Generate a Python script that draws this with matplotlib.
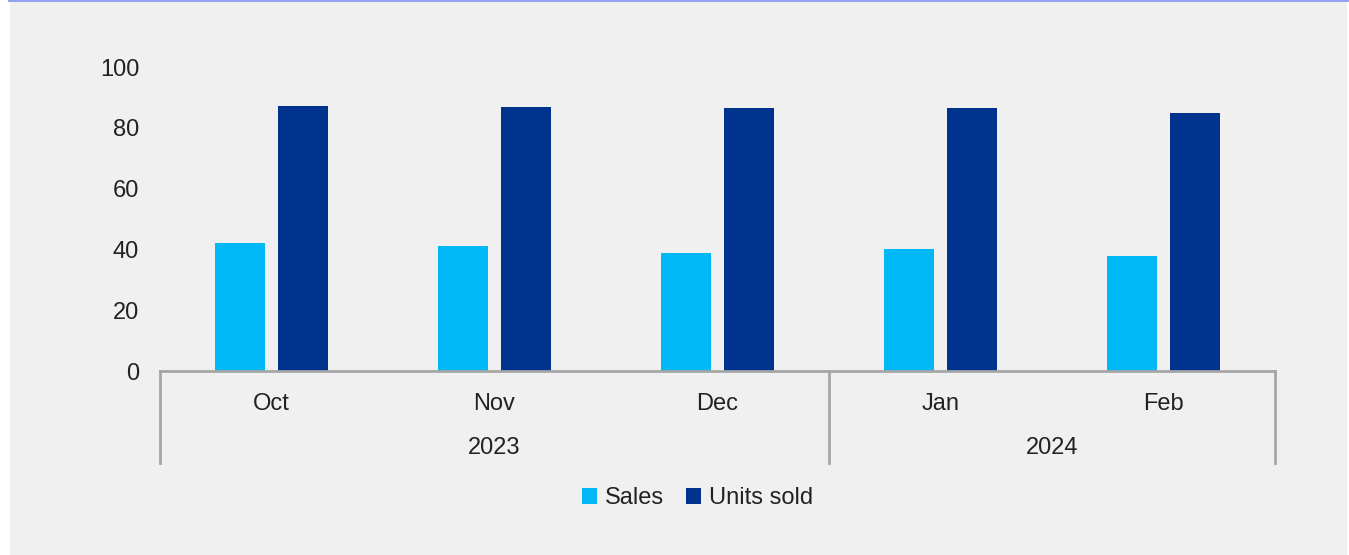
import matplotlib.pyplot as plt
import numpy as np
from matplotlib.patches import Rectangle
from matplotlib.transforms import blended_transform_factory

plt.rcParams['font.family'] = ['Liberation Sans', 'DejaVu Sans']

months = ['Oct', 'Nov', 'Dec', 'Jan', 'Feb']
years = ['2023', '2024']
year_spans = [(0, 2), (3, 4)]
sales = [42.1, 41.1, 38.8, 40.1, 37.9]
units_sold = [87.2, 86.8, 86.5, 86.5, 84.8]

W, H = 1349, 555
fig = plt.figure(figsize=(W / 100, H / 100), dpi=100, facecolor='white')
fig.patches.append(Rectangle((10 / W, 0), (W - 12) / W, 1 - 1 / H, transform=fig.transFigure,
                             facecolor='#f0f0f0', edgecolor='none', zorder=-2))
fig.patches.append(Rectangle((8 / W, 1 - 2 / H), 1, 2 / H, transform=fig.transFigure,
                             facecolor='#94a4f0', edgecolor='none', zorder=-1))

ax = fig.add_axes([160 / W, 1 - 371 / H, (1275 - 160) / W, (371 - 67) / H])
ax.set_facecolor('none')

x = np.arange(len(months))
bw = 0.224
off = 0.143
ax.bar(x - off, sales, bw, color='#00b8f5', label='Sales')
ax.bar(x + off, units_sold, bw, color='#00338d', label='Units sold')

fs = 17
ax.set_xlim(-0.5, len(months) - 0.5)
ax.set_ylim(0, 100)
ax.set_yticks(range(0, 101, 20))
ax.set_xticks(x)
ax.set_xticklabels(months)
ax.tick_params(axis='both', length=0, labelsize=fs, colors='#222222')
ax.tick_params(axis='x', pad=16)
ax.tick_params(axis='y', pad=15)

for s in ['top', 'right', 'left']:
    ax.spines[s].set_visible(False)
ax.spines['bottom'].set_color('#a6a6a6')
ax.spines['bottom'].set_linewidth(2)

trans = blended_transform_factory(ax.transData, ax.transAxes)
depth = -(463 - 371) / (371 - 67)
for xb in [-0.5, 2.5, len(months) - 0.5]:
    ax.plot([xb, xb], [0, depth], transform=trans, color='#a6a6a6', lw=2, clip_on=False)
for yr, (a, b) in zip(years, year_spans):
    ax.text((a + b) / 2, -(448 - 371) / (371 - 67), yr, transform=trans, ha='center', va='center',
            fontsize=fs, color='#222222')

ax.legend(loc='center', bbox_to_anchor=(0.482, -(498 - 371) / (371 - 67)), ncol=2, frameon=False,
          fontsize=fs, handlelength=0.65, handleheight=0.65, handletextpad=0.35, columnspacing=0.9,
          labelcolor='#222222')

fig.savefig('out.png', dpi=100, facecolor=fig.get_facecolor())
